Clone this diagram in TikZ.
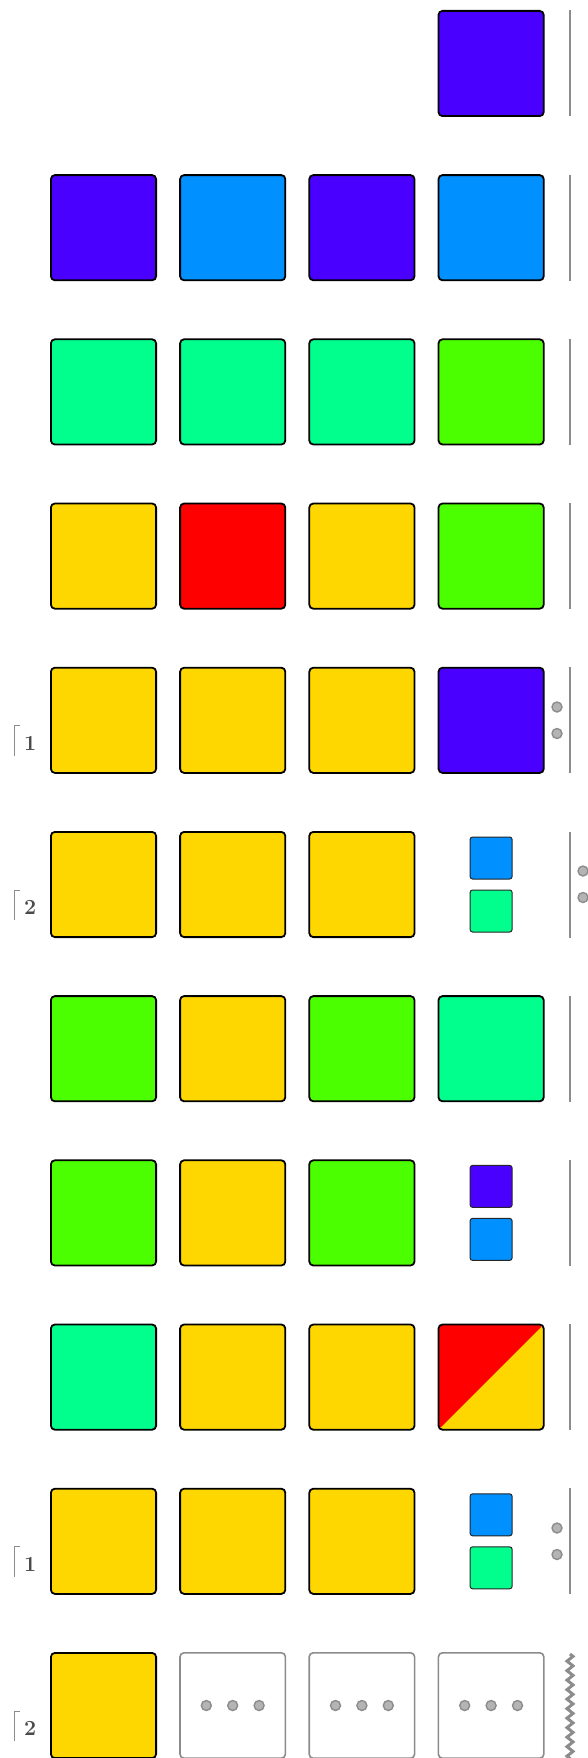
\documentclass[tikz,border=0pt]{standalone}
\usepackage{tikz}
\usetikzlibrary{positioning, decorations.pathmorphing}
\definecolor{tvio}{HTML}{4A00FF}
\definecolor{tblue}{HTML}{0090FF}
\definecolor{tmint}{HTML}{00FF8C}
\definecolor{tlime}{HTML}{4CFF00}
\definecolor{tgold}{HTML}{FFD700}
\definecolor{tred}{HTML}{FF0000}
\definecolor{tgray}{HTML}{8C8C8C}
\definecolor{pipfill}{HTML}{B4B4B4}
\definecolor{taggray}{HTML}{4A4A4A}
\tikzset{tile/.style={draw=black,line width=1.8pt,rounded corners=4pt,minimum size=105.2pt,inner sep=0pt,outer sep=0pt},
mini/.style={draw=black!85,line width=1pt,rounded corners=2.5pt,minimum size=42pt,inner sep=0pt},
blank/.style={draw=tgray,fill=white,line width=1.6pt,rounded corners=4pt,minimum size=105.4pt,inner sep=0pt,outer sep=0pt},
pip/.style={circle,draw=tgray,fill=pipfill,line width=1.4pt,minimum size=10pt,inner sep=0pt},
bar/.style={draw=tgray,line width=1.8pt},
wave/.style={draw=tgray,line width=3pt,decorate,decoration={zigzag,segment length=9.5pt,amplitude=3pt}},
tag/.style={anchor=base west,inner sep=0pt,text=taggray,font=\fontsize{21.5}{21.5}\selectfont\bfseries},
brk/.style={draw=tgray,line width=1pt}}

\begin{document}
\begin{tikzpicture}[x=1pt, y=-1pt, node distance=15pt]
\useasboundingbox (0,0) rectangle (587,1758);
\node[tile, fill=tvio] (t1-4) at (491.1,63.5) {};
\foreach \r/\row in {2/{tvio,tblue,tvio,tblue}, 3/{tmint,tmint,tmint,tlime}, 4/{tgold,tred,tgold,tlime},
  5/{tgold,tgold,tgold,tvio}, 6/{tgold,tgold,tgold}, 7/{tlime,tgold,tlime,tmint}, 8/{tlime,tgold,tlime},
  9/{tmint,tgold,tgold}, 10/{tgold,tgold,tgold}, 11/{tgold}}
  \foreach \col [count=\i] in \row
    \node[tile, fill=\col] (t\r-\i) at ({103.5+129.2*(\i-1)}, {63.5+164.2*(\r-1)}) {};
\node[tile, fill=tgold, path picture={\fill[tred] (path picture bounding box.south west) -- (path picture bounding box.north west) -- (path picture bounding box.north east) -- cycle;}] (t9-4) at (491.1,1377.1) {};
\node[mini, fill=tblue] (m6a) at (491.1,858) {};
\node[mini, fill=tmint] (m6b) at (491.1,911) {};
\node[mini, fill=tvio] (m8a) at (491.1,1186.4) {};
\node[mini, fill=tblue] (m8b) at (491.1,1239.4) {};
\node[mini, fill=tblue] (m10a) at (491.1,1514.8) {};
\node[mini, fill=tmint] (m10b) at (491.1,1567.8) {};
\foreach \i in {2,3,4} {
  \node[blank] (t11-\i) at ({103.5+129.2*(\i-1)}, 1705.5) {};
  \node[pip] (d\i-b) at (t11-\i) {};
  \node[pip, left=of d\i-b] (d\i-a) {};
  \node[pip, right=of d\i-b] (d\i-c) {};
}
\foreach \r in {1,...,10}
  \draw[bar] (570, {10.5+164.2*(\r-1)}) -- ++(0,106);
\draw[wave] (570,1654) -- (570,1762);
\node[pip] (p5a) at (557,707) {};
\node[pip] (p5b) at (557,733.5) {};
\node[pip] (p6a) at (583,871) {};
\node[pip] (p6b) at (583,897.5) {};
\node[pip] (p10a) at (557,1528) {};
\node[pip] (p10b) at (557,1554.5) {};
\foreach \r/\n in {5/1, 6/2, 10/1, 11/2} {
  \node[tag] (n\r) at (24, {10+164.2*(\r-1)+83.5}) {\n};
  \draw[brk] (n\r.base west) ++(-4,-24.5) -- ++(-6,0) -- ++(0,30);
}
\end{tikzpicture}
\end{document}
